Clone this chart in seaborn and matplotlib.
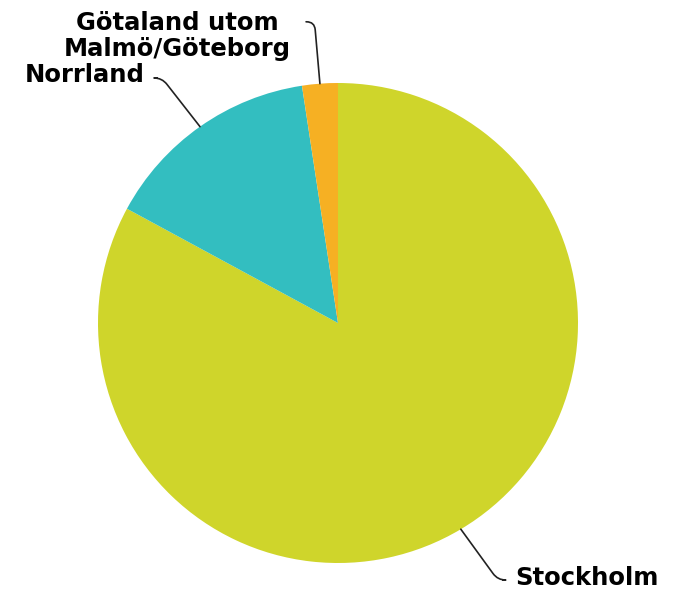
import seaborn as sns
import numpy as np
from matplotlib import pyplot as plt

# slices, clockwise from 12 o'clock
regions = ["Stockholm", "Norrland", "Götaland utom\nMalmö/Göteborg"]
shares = [82.9, 14.7, 2.4]
colors = ["#cfd52b", "#33bec0", "#f6b023"]

sns.set_theme(style="white")
plt.rcParams['font.family'] = ['DejaVu Sans']

fig = plt.figure(figsize=(6.79, 5.89), dpi=100)
ax = fig.add_axes([0, 0, 1, 1])
wedges, _ = ax.pie(shares, colors=colors, startangle=90, counterclock=False,
                   wedgeprops=dict(linewidth=0))
ax.set_xlim(-338 / 240, 341 / 240)
ax.set_ylim(-266 / 240, 323 / 240)
ax.set_aspect('equal')
ax.axis('off')

# label placement: (line end, text pos, ha, angleB of the leader)
label_spec = [
    ((0.6875, -1.071), (0.7375, -1.063), 'left', -54),
    ((-0.754, 1.021), (-0.804, 1.033), 'right', -52),
    ((-0.133, 1.255), (-0.671, 1.196), 'center', -85),
]
for w, name, (lend, tpos, ha, angb) in zip(wedges, regions, label_spec):
    mid = np.deg2rad((w.theta1 + w.theta2) / 2)
    ax.annotate("", xy=(np.cos(mid), np.sin(mid)), xytext=lend,
                arrowprops=dict(arrowstyle='-', color='#222222', lw=1.2,
                                shrinkA=0, shrinkB=0,
                                connectionstyle=f"angle,angleA=0,angleB={angb},rad=8"))
    ax.text(tpos[0], tpos[1], name, ha=ha, va='center', multialignment='center',
            fontsize=17.5, fontweight='bold', color='black', linespacing=1.1)

plt.savefig('out.png', dpi=100)
